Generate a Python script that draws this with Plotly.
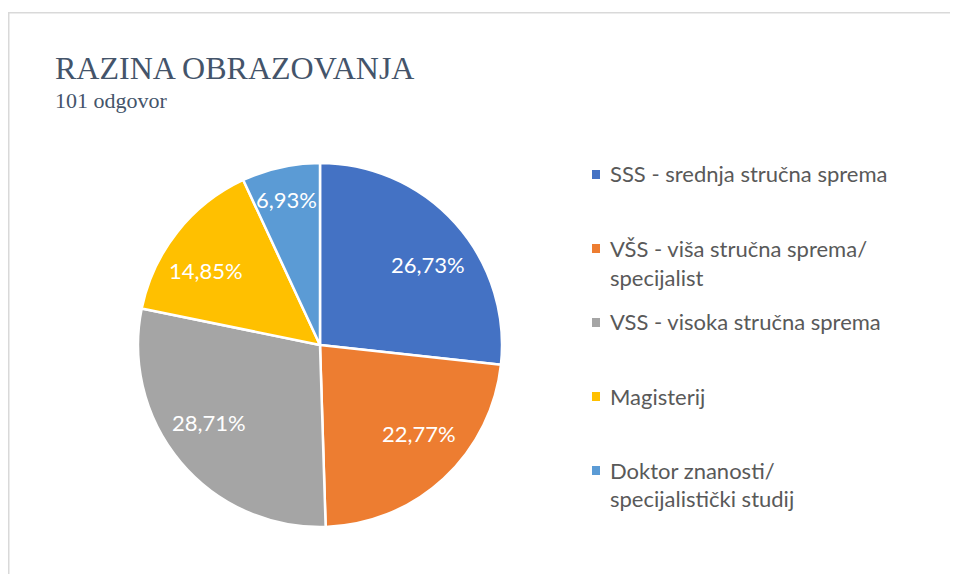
import math
import plotly.graph_objects as go

# ---- data ----
labels = [
    "SSS - srednja stručna sprema",
    "VŠS - viša stručna sprema/\nspecijalist",
    "VSS - visoka stručna sprema",
    "Magisterij",
    "Doktor znanosti/\nspecijalistički studij",
]
counts = [27, 23, 29, 15, 7]
colors = ["#4472C4", "#ED7D31", "#A5A5A5", "#FFC000", "#5B9BD5"]
title_text = "RAZINA OBRAZOVANJA"
subtitle_text = "101 odgovor"

# page is 958x582, the browser body adds an 8px margin
OFF = 8
W, H = 958 - 2 * OFF, 582 - 2 * OFF


def px(x):
    return (x - OFF) / W


def py(y):
    return 1 - (y - OFF) / H


cx, cy, R = 320, 345, 182

fig = go.Figure()
fig.add_trace(go.Pie(
    labels=[l.replace("\n", " ") for l in labels],
    values=counts,
    sort=False,
    direction="clockwise",
    rotation=0,
    marker=dict(colors=colors, line=dict(color="white", width=2.5)),
    textinfo="none",
    showlegend=False,
    hoverinfo="label+value+percent",
    domain=dict(x=[px(cx - R), px(cx + R)], y=[py(cy + R), py(cy - R)]),
))

annotations = [
    dict(text=title_text, x=px(53), y=py(88), xref="paper", yref="paper",
         xanchor="left", yanchor="bottom", showarrow=False,
         font=dict(family="Liberation Serif", size=32, color="#44546A")),
    dict(text=subtitle_text, x=px(53), y=py(115), xref="paper", yref="paper",
         xanchor="left", yanchor="bottom", showarrow=False,
         font=dict(family="Liberation Serif", size=22, color="#44546A")),
]

# percentage labels placed along each slice's bisector (best-fit style)
total = sum(counts)
start = 0.0
for c in counts:
    frac = c / total
    mid = (start + frac / 2) * 2 * math.pi
    if frac < 0.1:
        rx, ry = 0.86 * R, 0.82 * R
    else:
        rx, ry = 0.80 * R, 0.66 * R
    lx = cx + rx * math.sin(mid)
    ly = cy - ry * math.cos(mid)
    annotations.append(dict(
        text=f"{100 * frac:.2f}%".replace(".", ","),
        x=px(lx), y=py(ly), xref="paper", yref="paper",
        xanchor="center", yanchor="middle", showarrow=False,
        font=dict(family="Lato", size=22, color="white")))
    start += frac

shapes = [
    dict(type="path", xref="paper", yref="paper",
         path=f"M {px(8.75)} {py(582 + 10)} L {px(8.75)} {py(12.75)} L {px(958 + 10)} {py(12.75)}",
         line=dict(color="#D9D9D9", width=1.5)),
]

# manual legend
for i, (lab, col) in enumerate(zip(labels, colors)):
    y0 = 174 + 74 * i
    shapes.append(dict(type="rect", xref="paper", yref="paper",
                       x0=px(592), x1=px(600), y0=py(y0 + 5), y1=py(y0 - 4),
                       fillcolor=col, line=dict(width=0)))
    for j, line in enumerate(lab.split("\n")):
        annotations.append(dict(
            text=line, x=px(608), y=py(y0 + 29 * j), xref="paper", yref="paper",
            xanchor="left", yanchor="middle", showarrow=False,
            font=dict(family="Lato", size=22, color="#595959")))

fig.update_layout(
    width=W, height=H,
    margin=dict(l=0, r=0, t=0, b=0),
    paper_bgcolor="white", plot_bgcolor="white",
    annotations=annotations,
    shapes=shapes,
)

fig.write_html("out.html")
